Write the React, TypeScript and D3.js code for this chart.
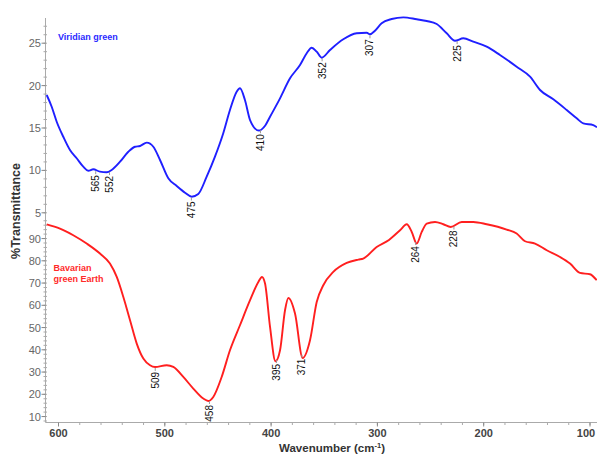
import React from "react";
import * as d3 from "d3";

// Viridian green spectrum (wavenumber, %T) – upper trace
const blueWn = [611.1, 606.4, 601.7, 595.5, 589.2, 582.9, 576.7, 572, 567.3, 561, 554.7, 550, 542.1, 534.3, 528, 523.3, 517, 510.8, 504.5, 496.7, 488.8, 481, 474.7, 468.5, 460.6, 452.8, 445, 438.7, 432.4, 429.3, 424.6, 419.8, 411.5, 405.5, 401, 391.6, 382.2, 372.8, 366.5, 361.8, 357.1, 352.4, 344.6, 332.1, 319.5, 310.1, 307, 302.3, 296, 286.6, 275.6, 263, 253.6, 244.2, 234.8, 227, 219.2, 209.8, 197.2, 184.7, 169, 156.4, 147, 134.5, 121.9, 112.5, 106.3, 96.9, 93.4];
const blueT = [18.89, 17.51, 15.74, 13.97, 12.41, 11.43, 10.44, 9.96, 10.13, 9.85, 9.78, 10.05, 11.03, 12.2, 12.79, 12.88, 13.27, 12.79, 11.23, 9.07, 8.16, 7.37, 6.9, 7.22, 9.26, 11.62, 14.38, 17.12, 19.28, 19.68, 18.3, 15.94, 14.7, 15.3, 16.33, 18.5, 20.86, 22.43, 23.81, 24.47, 24.0, 23.29, 24.2, 25.46, 26.17, 26.24, 26.05, 26.47, 27.35, 27.85, 28.05, 27.82, 27.62, 27.26, 26.17, 25.29, 25.58, 25.18, 24.59, 23.61, 22.23, 21.05, 19.48, 18.38, 17.12, 16.14, 15.55, 15.35, 15.08];

// Bavarian green Earth spectrum – lower trace
const redWn = [611.1, 598.6, 586.1, 573.5, 561, 551.6, 545.2, 539, 532.7, 526.4, 520.2, 513.9, 509.2, 498.2, 492, 482.6, 473.2, 463.8, 459.1, 454.4, 446.5, 438.7, 429.3, 419.8, 412, 408.6, 405.7, 401, 395.9, 391.6, 386.9, 383.8, 377.5, 370.3, 363.4, 357.1, 350.9, 341.5, 328.9, 317.9, 313.3, 300.7, 289.1, 278.7, 272.4, 267.7, 263, 258.3, 253.6, 245.8, 238, 231, 220.7, 209.8, 197.2, 178.4, 169, 161.1, 151.7, 140.7, 128.2, 118.8, 109.4, 100, 93.7];
const redT = [96.4, 94.5, 91.5, 87.75, 83.26, 78.76, 72.74, 63.75, 53.28, 42.8, 36.07, 33.06, 32.29, 33.06, 32.29, 27.8, 22.58, 18.09, 17.01, 18.81, 27.8, 39.8, 51.03, 62.27, 70.49, 72.74, 69.78, 50.27, 34.85, 39.8, 57.78, 63.3, 56.29, 36.34, 44.29, 61.5, 69.01, 74.99, 79.03, 80.56, 81.01, 86.22, 89.37, 93.73, 96.43, 92.97, 87.75, 92.97, 96.74, 97.46, 96.43, 95.21, 97.46, 97.46, 96.43, 94.04, 92.25, 88.79, 87.75, 84.74, 81.73, 78.76, 74.54, 73.96, 71.26];

const bluePeaks = [565, 552, 475, 410, 352, 307, 225];
const redPeaks = [509, 458, 395, 371, 264, 228];

const xTicks = [600, 500, 400, 300, 200, 100];
const topTicks = [5, 10, 15, 20, 25];
const botTicks = [10, 20, 30, 40, 50, 60, 70, 80, 90];

const W = 597;
const H = 454;
const FONT = "Liberation Sans, Arial, sans-serif";

function interp(wn: number[], t: number[], w: number) {
  for (let i = 0; i < wn.length - 1; i++) {
    if (w <= wn[i] && w >= wn[i + 1]) {
      const f = (wn[i] - w) / (wn[i] - wn[i + 1]);
      return t[i] + f * (t[i + 1] - t[i]);
    }
  }
  return t[0];
}

export default function App() {
  const x = d3.scaleLinear().domain([600, 100]).range([58.5, 590]);
  const yTop = d3.scaleLinear().domain([0, 25]).range([255.2, 43.2]);
  const yBot = d3.scaleLinear().domain([10, 90]).range([416.55, 238.55]);
  const axisX = 45.5;
  const axisY = 422.5;
  const left = 45.5;

  const blueLine = d3
    .line<number>()
    .x((_, i) => x(blueWn[i]))
    .y((d) => yTop(d))
    .curve(d3.curveMonotoneX);
  const redLine = d3
    .line<number>()
    .x((_, i) => x(redWn[i]))
    .y((d) => yBot(d))
    .curve(d3.curveMonotoneX);

  const minorX = d3.range(600, 90, -20);
  const topMinor = d3.range(5, 28, 1);
  const botMinor = d3.range(8, 100, 2);

  const peakLabel = (w: number, yy: number, key: string) => (
    <g key={key}>
      <line x1={x(w)} x2={x(w)} y1={yy + 1} y2={yy + 4} stroke="#999" strokeWidth={1} />
      <text
        transform={`translate(${x(w) + 3.5},${yy + 5}) rotate(-90)`}
        textAnchor="end"
        fontSize={10}
        fontFamily={FONT}
        fill="#111"
      >
        {w}
      </text>
    </g>
  );

  return (
    <svg
      width={W}
      height={H}
      style={{ position: "absolute", left: 0, top: 0, background: "#fff" }}
    >
      <rect width={W} height={H} fill="#fff" />
      {/* y axis */}
      <line x1={axisX} x2={axisX} y1={18} y2={axisY} stroke="#aaa" strokeWidth={1} />
      {topMinor.map((v) => (
        <line key={"tm" + v} x1={axisX - 2} x2={axisX + 1.5} y1={yTop(v)} y2={yTop(v)} stroke="#aaa" />
      ))}
      {botMinor.map((v) => (
        <line key={"bm" + v} x1={axisX - 2} x2={axisX + 1.5} y1={yBot(v)} y2={yBot(v)} stroke="#aaa" />
      ))}
      {topTicks.map((v) => (
        <g key={"tt" + v}>
          <line x1={axisX - 4} x2={axisX} y1={yTop(v)} y2={yTop(v)} stroke="#888" />
          <text x={41} y={yTop(v) + 4} textAnchor="end" fontSize={11} fontFamily={FONT} fill="#666">
            {v}
          </text>
        </g>
      ))}
      {botTicks.map((v) => (
        <g key={"bt" + v}>
          <line x1={axisX - 4} x2={axisX} y1={yBot(v)} y2={yBot(v)} stroke="#888" />
          <text x={41} y={yBot(v) + 4} textAnchor="end" fontSize={11} fontFamily={FONT} fill="#666">
            {v}
          </text>
        </g>
      ))}
      {/* x axis */}
      <line x1={left} x2={W} y1={axisY} y2={axisY} stroke="#aaa" strokeWidth={1} />
      {minorX.map((v) => (
        <line key={"xm" + v} x1={x(v)} x2={x(v)} y1={axisY} y2={axisY + 2.5} stroke="#aaa" />
      ))}
      {xTicks.map((v) => (
        <g key={"xt" + v}>
          <line x1={x(v)} x2={x(v)} y1={axisY} y2={axisY + 4} stroke="#888" />
          <text x={Math.min(x(v), 586)} y={437} textAnchor="middle" fontSize={11} fontWeight="bold" fontFamily={FONT} fill="#444">
            {v}
          </text>
        </g>
      ))}
      {/* axis titles */}
      <text x={332} y={452} textAnchor="middle" fontSize={11.5} fontWeight="bold" fontFamily={FONT} fill="#333">
        Wavenumber (cm
        <tspan fontSize={7.5} dy={-4}>-1</tspan>
        <tspan dy={4}>)</tspan>
      </text>
      <text
        transform={`translate(20,211) rotate(-90)`}
        textAnchor="middle"
        fontSize={12.5}
        fontWeight="bold"
        fontFamily={FONT}
        fill="#333"
      >
        %Transmittance
      </text>
      {/* curves */}
      <path d={blueLine(blueT) || ""} fill="none" stroke="#1f1fff" strokeWidth={1.9} />
      <path d={redLine(redT) || ""} fill="none" stroke="#ff1f1f" strokeWidth={1.9} />
      {/* peak labels */}
      {bluePeaks.map((w) => peakLabel(w, yTop(interp(blueWn, blueT, w)), "bp" + w))}
      {redPeaks.map((w) => peakLabel(w, yBot(interp(redWn, redT, w)), "rp" + w))}
      {/* series names */}
      <text x={58} y={39.5} fontSize={9} fontWeight="bold" fontFamily={FONT} fill="#2a2aff">
        Viridian green
      </text>
      <text fontSize={9} fontWeight="bold" fontFamily={FONT} fill="#ff2a2a">
        <tspan x={53.5} y={270.5}>Bavarian</tspan>
        <tspan x={53.5} y={281.8}>green Earth</tspan>
      </text>
    </svg>
  );
}
